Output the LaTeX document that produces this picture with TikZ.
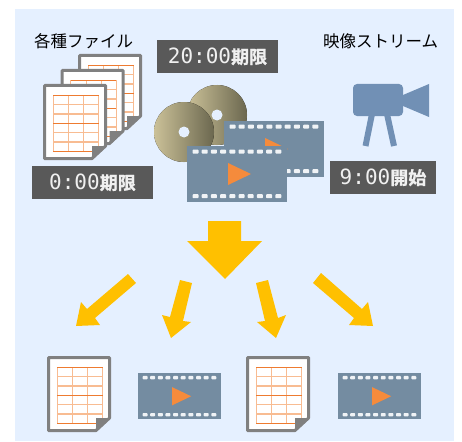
\documentclass[tikz,border=0pt]{standalone}
\usepackage{fontspec}
\newfontfamily\cjk{Noto Sans CJK JP}
\newfontfamily\cjkb[FakeBold=1.2]{Noto Sans CJK JP Bold}
\newfontfamily\monof{DejaVu Sans Mono}
\definecolor{bgblue}{HTML}{E5F0FF}
\definecolor{tagdark}{HTML}{595959}
\definecolor{docgray}{HTML}{808080}
\definecolor{tabledark}{HTML}{EE7B30}
\definecolor{tablelight}{HTML}{F8BC92}
\definecolor{filmblue}{HTML}{748CA1}
\definecolor{playorange}{HTML}{F58B3C}
\definecolor{arrowyellow}{HTML}{FFC000}
\definecolor{camblue}{HTML}{7190B5}
\definecolor{disklight}{HTML}{CBC198}
\definecolor{diskdark}{HTML}{6B674F}
\definecolor{tagtext}{HTML}{F0F0F0}
\definecolor{holewhite}{HTML}{F0F3F6}
\tikzset{
  x=1pt,y=-1pt,
  tagbox/.style={fill=tagdark,text=tagtext,inner sep=0pt,minimum height=33pt,anchor=center},
  titletext/.style={inner sep=0pt,anchor=center,font=\cjk\fontsize{16.5}{17}\selectfont},
  bigarrow/.style={fill=arrowyellow,draw=none},
  disk/.style={left color=disklight,right color=diskdark,draw=none},
  docicon/.pic={
    \path[fill=white,draw=docgray,line width=3pt,line join=round]
      (1.5,1.5) -- (62.5,1.5) -- (62.5,62) -- (49,74.5) -- (1.5,74.5) -- cycle;
    \foreach \yy in {20.6,30,48.6,58} \draw[tablelight,line width=1.6pt] (10.3,\yy) -- (55.7,\yy);
    \foreach \xx in {25.5,40.6} \draw[tablelight,line width=1pt] (\xx,11.3) -- (\xx,67.7);
    \draw[tablelight,line width=1pt] (10.3,11.3) -- (10.3,67.7) (55.7,11.3) -- (55.7,67.7);
    \foreach \yy in {11.3,39.3,67.7} \draw[tabledark,line width=1pt] (10.3,\yy) -- (55.7,\yy);
    \fill[docgray] (49,62) -- (63.5,62) -- (49,76) -- cycle;
  },
  filmicon/.pic={
    \fill[filmblue] (0,0) rectangle (100,55.5);
    \foreach \ii in {0,...,9} {
      \fill[holewhite,rounded corners=.8pt] ({8.5+9.2*\ii-3},3.6) rectangle ({8.5+9.2*\ii+3},7.6);
      \fill[holewhite,rounded corners=.8pt] ({8.5+9.2*\ii-3},48.2) rectangle ({8.5+9.2*\ii+3},52.2);
    }
    \fill[playorange] (41,17) -- (64,28) -- (41,39) -- cycle;
  }
}
\begin{document}
\begin{tikzpicture}
\useasboundingbox (0,0) rectangle (462,441);
\fill[bgblue] (15,9) rectangle (454,441);
% titles
\node[titletext] (titlefile) at (83.5,41) {各種ファイル};
\node[titletext] (titlestream) at (380.5,41) {映像ストリーム};
% stacked documents
\pic at (78,54) {docicon};
\pic at (60.5,69) {docicon};
\pic at (43,84) {docicon};
% disks
\fill[disk] (217,115) circle[radius=30];
\fill[bgblue] (217,115) circle[radius=5.5];
\fill[disk] (184,132) circle[radius=30];
\fill[bgblue] (184,132) circle[radius=5.5];
% films
\pic at (224,121) {filmicon};
\pic at (187,146) {filmicon};
% camera
\fill[camblue,rounded corners=4pt] (353,84) rectangle (403,116);
\fill[camblue] (403,95) -- (429,84) -- (429,117) -- (403,106) -- cycle;
\draw[camblue,line width=6pt] (372,114) -- (365.5,146);
\draw[camblue,line width=6pt] (387,114) -- (394,146);
% tags
\node[tagbox,minimum width=121pt] (tagA) at (92.5,182.5) {{\monof\fontsize{21}{21}\selectfont 0:00}{\cjkb\fontsize{18}{18}\selectfont 期限}};
\node[tagbox,minimum width=121pt] (tagB) at (217.5,56.5) {{\monof\fontsize{21}{21}\selectfont 20:00}{\cjkb\fontsize{18}{18}\selectfont 期限}};
\node[tagbox,minimum width=106pt] (tagC) at (383,177.5) {{\monof\fontsize{21}{21}\selectfont 9:00}{\cjkb\fontsize{18}{18}\selectfont 開始}};
% arrows
\fill[bigarrow] (208,221) -- (241,221) -- (241,241) -- (262,241) -- (225,279) -- (187,241) -- (208,241) -- cycle;
\fill[bigarrow] (128,274) -- (136,283) -- (95,318) -- (100,325) -- (76,326) -- (81,302) -- (87,309) -- cycle;
\fill[bigarrow] (180,280) -- (192,283) -- (183,321) -- (191,322) -- (171,338) -- (162,315) -- (170,317) -- cycle;
\fill[bigarrow] (256,283) -- (268,280) -- (278,318) -- (286,315) -- (276,338) -- (257,322) -- (265,321) -- cycle;
\fill[bigarrow] (321,273) -- (313,283) -- (354,318) -- (349,325) -- (373,326) -- (368,302) -- (362,309) -- cycle;
% bottom row
\pic at (47,356) {docicon};
\pic at (246,356) {docicon};
\pic[scale=.83] at (138,373) {filmicon};
\pic[scale=.83] at (338,373) {filmicon};
\end{tikzpicture}
\end{document}
